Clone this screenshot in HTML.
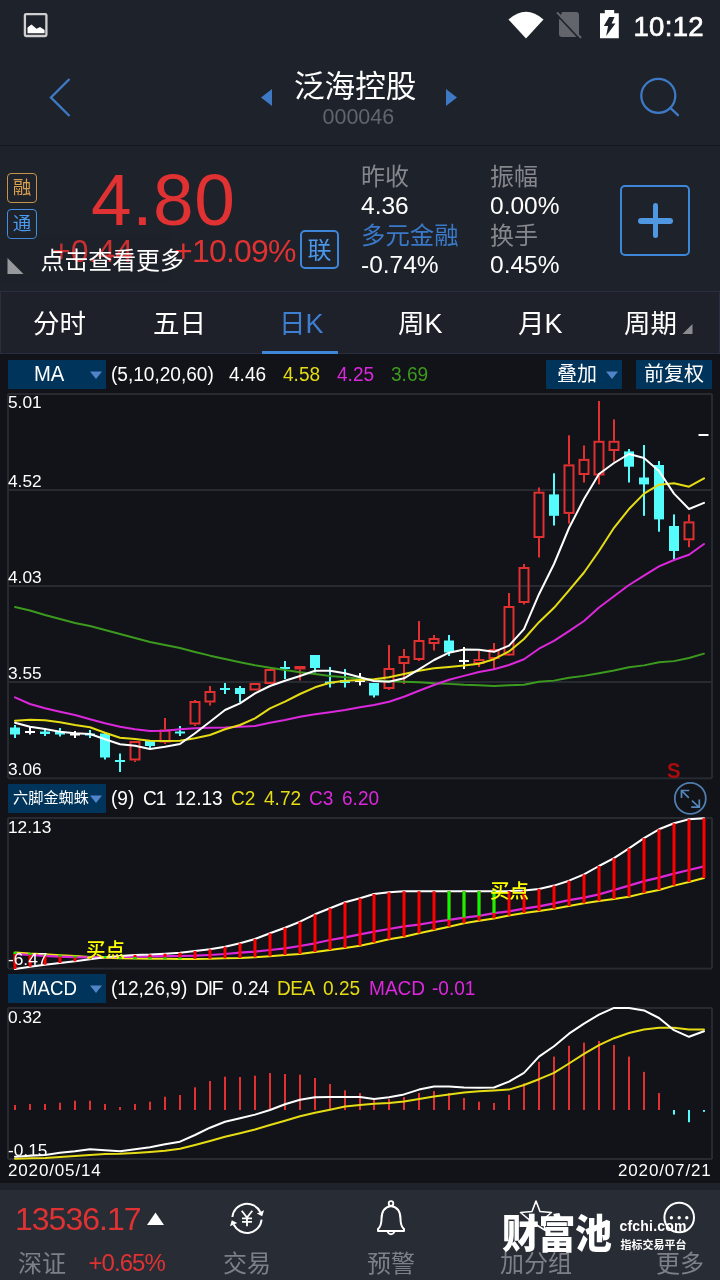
<!DOCTYPE html>
<html lang="zh"><head><meta charset="utf-8"><title>泛海控股 000046</title>
<style>
*{margin:0;padding:0;box-sizing:border-box}
html,body{width:720px;height:1280px;overflow:hidden;background:#111318}
body{position:relative;font-family:"Liberation Sans","Noto Sans CJK SC",sans-serif;color:#fff}
.a{position:absolute;white-space:nowrap;line-height:1}
.cj{font-family:"Liberation Sans","Noto Sans CJK SC",sans-serif}
#top{position:absolute;left:0;top:0;width:720px;height:145px;background:#1e222a}
#info{position:absolute;left:0;top:146.2px;width:720px;height:136.8px;background:#1e222a}
#gap{position:absolute;left:0;top:283px;width:720px;height:8px;background:#1e222a}
#tabs{position:absolute;left:0;top:291px;width:720px;height:63px;background:#1e212a;border:1px solid #2a2c40}
#bot{position:absolute;left:0;top:1183px;width:720px;height:97px;background:#282c35;border-top:7px solid #1e222a}
.btn{position:absolute;background:#00345a;height:28.7px}
.g{color:#85878c}
.y{color:#e6dc14}.m{color:#dc28dc}.gr{color:#3c9a1e}.r{color:#e03030}
.ax{font-size:17.3px}
.h{font-size:20.5px;transform:scaleX(0.93);transform-origin:0 50%}
#L{position:absolute;left:0;top:0;width:720px;height:1280px;will-change:transform}
</style></head><body><div id="L">
<div id="top"></div><div id="info"></div><div id="gap"></div><div id="tabs"></div><div id="bot"></div>

<!-- status bar -->
<svg class="a" style="left:0;top:0" width="720" height="50" viewBox="0 0 720 50">
 <rect x="24.9" y="14.1" width="21.5" height="21.9" rx="1.2" fill="none" stroke="#d0d0d0" stroke-width="2.3"/>
 <path d="M27.5 33.3 L27.5 27.5 L31.5 24.6 L36.5 28.7 L40 27 L44.6 30 L44.6 33.3 Z" fill="#fff"/>
 <path d="M508.5 19.5 Q526 4 543.5 19.5 L526 38.5 Z" fill="#fff"/>
 <path d="M562 12 h14 a3 3 0 0 1 3 3 v19 a3 3 0 0 1 -3 3 h-14 a3 3 0 0 1 -3 -3 v-14 z" fill="#62656b"/>
 <path d="M557 12.5 L581 38" stroke="#62656b" stroke-width="2.2"/>
 <path d="M556 14 L580 39.5" stroke="#1e222a" stroke-width="1.6"/>
 <path d="M604.8 10 h9.4 v3.2 h4.6 v25 h-18.8 v-25 h4.8 z" fill="#fff"/>
 <path d="M609.1 17 L614.5 17 L611.6 23.5 L615.5 23.5 L606.1 36 L608.1 26 L603.8 26 Z" fill="#1e222a"/>
</svg>
<div class="a" style="left:633.5px;top:12.5px;font-size:27.5px;letter-spacing:0.3px;-webkit-text-stroke:0.7px #fff">10:12</div>

<!-- header -->
<svg class="a" style="left:0;top:60px" width="720" height="80" viewBox="0 60 720 80">
 <path d="M69.5 79 L51 97.5 L69.5 116" fill="none" stroke="#3d79c4" stroke-width="2.4"/>
 <path d="M261 97.5 L272 89 L272 106 Z" fill="#3d79c4"/>
 <path d="M457 97.5 L446 89 L446 106 Z" fill="#3d79c4"/>
 <circle cx="658.3" cy="95.8" r="17" fill="none" stroke="#3d79c4" stroke-width="2.3"/>
 <path d="M670.3 107.8 L678 115.2" stroke="#3d79c4" stroke-width="2.3" stroke-linecap="round"/>
</svg>
<div class="a cj" style="left:294px;top:71.2px;font-size:30.6px">泛海控股</div>
<div class="a g" style="left:322.5px;top:107px;font-size:21.5px;color:#60656f">000046</div>
<div class="a" style="left:0;top:144.5px;width:720px;height:1.8px;background:#15171c"></div>

<!-- info -->
<div class="a cj" style="left:7px;top:173px;width:30px;height:30.3px;border:1.7px solid #c8924a;border-radius:4px;color:#d9a050;font-size:18.5px;text-align:center;line-height:27.6px">融</div>
<div class="a cj" style="left:7px;top:208.8px;width:30px;height:30.3px;border:1.7px solid #4590e6;border-radius:4px;color:#4a9af0;font-size:18.5px;text-align:center;line-height:27.6px">通</div>
<div class="a r" style="left:91px;top:163px;font-size:73px;letter-spacing:0.6px;color:#e03232">4.80</div>
<div class="a r" style="left:52px;top:235px;font-size:32px;color:#e03232">+0.44</div>
<div class="a r" style="left:174px;top:235px;font-size:32px;letter-spacing:-0.8px;color:#e03232">+10.09%</div>
<div class="a" style="left:0;top:234px;width:172px;height:48px;background:rgba(30,34,42,0.10)"></div>
<svg class="a" style="left:6px;top:256px" width="20" height="20"><path d="M1.5 2 L1.5 18 L17.5 18 Z" fill="#97999c"/></svg>
<div class="a cj" style="left:40.5px;top:249.2px;font-size:23.9px">点击查看更多</div>
<div class="a cj" style="left:300px;top:230.1px;width:39px;height:39px;border:2px solid #3d86d8;border-radius:5px;color:#4a96ea;font-size:24px;text-align:center;line-height:37.2px">联</div>

<div class="a cj g" style="left:361px;top:164.7px;font-size:24px">昨收</div>
<div class="a" style="left:361px;top:194px;font-size:24.5px">4.36</div>
<div class="a cj" style="left:361px;top:223.7px;font-size:24.4px;color:#3a78c8">多元金融</div>
<div class="a" style="left:361px;top:253px;font-size:24.5px">-0.74%</div>
<div class="a cj g" style="left:490px;top:164.7px;font-size:24px">振幅</div>
<div class="a" style="left:490px;top:194px;font-size:24.5px">0.00%</div>
<div class="a cj g" style="left:490px;top:223.7px;font-size:24px">换手</div>
<div class="a" style="left:490px;top:253px;font-size:24.5px">0.45%</div>
<div class="a" style="left:620px;top:185px;width:70px;height:71px;border:2px solid #3d86d8;border-radius:5px"></div>
<div class="a" style="left:638px;top:218px;width:34.5px;height:5.6px;background:#4f97e0;border-radius:3px"></div>
<div class="a" style="left:652.5px;top:203px;width:5.6px;height:35px;background:#4f97e0;border-radius:3px"></div>

<!-- tabs -->
<div class="a cj" style="left:33px;top:310.9px;font-size:26.5px">分时</div>
<div class="a cj" style="left:153px;top:310.9px;font-size:26.5px">五日</div>
<div class="a cj" style="left:279px;top:310.9px;font-size:26.5px;color:#3d7fd0">日<span style="font-size:27px">K</span></div>
<div class="a cj" style="left:398px;top:310.9px;font-size:26.5px">周<span style="font-size:27px">K</span></div>
<div class="a cj" style="left:518px;top:310.9px;font-size:26.5px">月<span style="font-size:27px">K</span></div>
<div class="a cj" style="left:624px;top:310.9px;font-size:26.5px">周期</div>
<svg class="a" style="left:680px;top:322px" width="14" height="14"><path d="M12.5 2 L12.5 12 L2.5 12 Z" fill="#8a8c90"/></svg>
<div class="a" style="left:262px;top:351px;width:76px;height:3px;background:#3d86d8"></div>

<!-- MA header -->
<div class="btn" style="left:8px;top:360px;width:98px"></div>
<div class="a" style="left:34px;top:363px;font-size:22px;transform:scaleX(0.92);transform-origin:0 50%">MA</div>
<svg class="a" style="left:89px;top:370px" width="14" height="10"><path d="M1 1.5 L13 1.5 L7 9 Z" fill="#4f84c8"/></svg>
<div class="a h" style="left:111px;top:364px">(5,10,20,60)</div>
<div class="a h" style="left:229px;top:364px">4.46</div>
<div class="a h y" style="left:283px;top:364px">4.58</div>
<div class="a h m" style="left:337px;top:364px">4.25</div>
<div class="a h gr" style="left:391px;top:364px">3.69</div>
<div class="btn" style="left:546px;top:360px;width:76px"></div>
<div class="a cj" style="left:557px;top:364.4px;font-size:20px">叠加</div>
<svg class="a" style="left:605px;top:370px" width="14" height="10"><path d="M1 1.5 L13 1.5 L7 9 Z" fill="#4f84c8"/></svg>
<div class="btn" style="left:636px;top:360px;width:76px"></div>
<div class="a cj" style="left:644px;top:364.4px;font-size:20px">前复权</div>

<!-- charts -->
<svg class="a" style="left:0;top:0" width="720" height="1280" viewBox="0 0 720 1280">
<rect x="8" y="393.0" width="704" height="2" fill="#272a31"/>
<rect x="8" y="489.0" width="704" height="2" fill="#272a31"/>
<rect x="8" y="585.0" width="704" height="2" fill="#272a31"/>
<rect x="8" y="681.0" width="704" height="2" fill="#272a31"/>
<rect x="8" y="777.3" width="704" height="2" fill="#272a31"/>
<rect x="7.0" y="394" width="2" height="384" fill="#272a31"/>
<rect x="711.0" y="394" width="2" height="384" fill="#272a31"/>
<rect x="8" y="817.0" width="704" height="2" fill="#272a31"/>
<rect x="8" y="967.6" width="704" height="2" fill="#272a31"/>
<rect x="7.0" y="818" width="2" height="150" fill="#272a31"/>
<rect x="711.0" y="818" width="2" height="150" fill="#272a31"/>
<rect x="8" y="1007.0" width="704" height="2" fill="#272a31"/>
<rect x="8" y="1158.0" width="704" height="2" fill="#272a31"/>
<rect x="7.0" y="1008" width="2" height="151" fill="#272a31"/>
<rect x="711.0" y="1008" width="2" height="151" fill="#272a31"/>
<rect x="14" y="725.0" width="2" height="13.0" fill="#54fcfc"/>
<rect x="10.0" y="727.5" width="10" height="7.0" fill="#54fcfc"/>
<rect x="29" y="726.0" width="2" height="8.5" fill="#fff"/>
<rect x="25.0" y="731.0" width="10" height="2" fill="#fff"/>
<rect x="44" y="728.0" width="2" height="8.0" fill="#54fcfc"/>
<rect x="40.0" y="731.5" width="10" height="2.5" fill="#54fcfc"/>
<rect x="59" y="728.0" width="2" height="8.5" fill="#54fcfc"/>
<rect x="55.0" y="732.0" width="10" height="2.5" fill="#54fcfc"/>
<rect x="74" y="731.0" width="2" height="7.0" fill="#fff"/>
<rect x="70.0" y="733.5" width="10" height="2" fill="#fff"/>
<rect x="89" y="730.0" width="2" height="8.0" fill="#54fcfc"/>
<rect x="85.0" y="733.5" width="10" height="2.0" fill="#54fcfc"/>
<rect x="104" y="732.0" width="2" height="27.5" fill="#54fcfc"/>
<rect x="100.0" y="733.5" width="10" height="24.0" fill="#54fcfc"/>
<rect x="119" y="753.5" width="2" height="18.5" fill="#54fcfc"/>
<rect x="115.0" y="760.0" width="10" height="2.0" fill="#54fcfc"/>
<rect x="134" y="741.0" width="2" height="0.0" fill="#e03030"/>
<rect x="134" y="760.5" width="2" height="1.5" fill="#e03030"/>
<rect x="130.5" y="742.0" width="9" height="17.5" fill="none" stroke="#e03030" stroke-width="2"/>
<rect x="149" y="741.0" width="2" height="8.0" fill="#54fcfc"/>
<rect x="145.0" y="741.0" width="10" height="5.0" fill="#54fcfc"/>
<rect x="164" y="718.0" width="2" height="11.5" fill="#e03030"/>
<rect x="164" y="742.5" width="2" height="1.5" fill="#e03030"/>
<rect x="160.5" y="730.5" width="9" height="11.0" fill="none" stroke="#e03030" stroke-width="2"/>
<rect x="179" y="726.0" width="2" height="10.0" fill="#54fcfc"/>
<rect x="175.0" y="731.5" width="10" height="2.0" fill="#54fcfc"/>
<rect x="194" y="700.0" width="2" height="1.0" fill="#e03030"/>
<rect x="194" y="724.5" width="2" height="1.5" fill="#e03030"/>
<rect x="190.5" y="702.0" width="9" height="21.5" fill="none" stroke="#e03030" stroke-width="2"/>
<rect x="209" y="686.0" width="2" height="5.0" fill="#e03030"/>
<rect x="209" y="702.5" width="2" height="3.0" fill="#e03030"/>
<rect x="205.5" y="692.0" width="9" height="9.5" fill="none" stroke="#e03030" stroke-width="2"/>
<rect x="224" y="683.0" width="2" height="11.0" fill="#54fcfc"/>
<rect x="220.0" y="688.0" width="10" height="2.0" fill="#54fcfc"/>
<rect x="239" y="686.0" width="2" height="16.5" fill="#54fcfc"/>
<rect x="235.0" y="688.0" width="10" height="6.0" fill="#54fcfc"/>
<rect x="254" y="683.0" width="2" height="0.0" fill="#e03030"/>
<rect x="254" y="690.5" width="2" height="0.0" fill="#e03030"/>
<rect x="250.5" y="684.0" width="9" height="5.5" fill="none" stroke="#e03030" stroke-width="2"/>
<rect x="269" y="669.0" width="2" height="0.0" fill="#e03030"/>
<rect x="269" y="684.0" width="2" height="0.0" fill="#e03030"/>
<rect x="265.5" y="670.0" width="9" height="13.0" fill="none" stroke="#e03030" stroke-width="2"/>
<rect x="284" y="661.0" width="2" height="18.0" fill="#54fcfc"/>
<rect x="280.0" y="667.0" width="10" height="2.0" fill="#54fcfc"/>
<rect x="299" y="666.0" width="2" height="0.0" fill="#e03030"/>
<rect x="299" y="669.5" width="2" height="11.0" fill="#e03030"/>
<rect x="295.5" y="667.0" width="9" height="1.5" fill="none" stroke="#e03030" stroke-width="2"/>
<rect x="314" y="655.0" width="2" height="17.5" fill="#54fcfc"/>
<rect x="310.0" y="655.0" width="10" height="13.0" fill="#54fcfc"/>
<rect x="329" y="667.0" width="2" height="20.5" fill="#54fcfc"/>
<rect x="325.0" y="681.5" width="10" height="2.0" fill="#54fcfc"/>
<rect x="344" y="669.0" width="2" height="18.5" fill="#54fcfc"/>
<rect x="340.0" y="680.0" width="10" height="3.0" fill="#54fcfc"/>
<rect x="359" y="673.0" width="2" height="12.5" fill="#fff"/>
<rect x="355.0" y="680.0" width="10" height="2" fill="#fff"/>
<rect x="373" y="683.0" width="2" height="14.5" fill="#54fcfc"/>
<rect x="369.0" y="683.0" width="10" height="12.5" fill="#54fcfc"/>
<rect x="388" y="645.0" width="2" height="23.0" fill="#e03030"/>
<rect x="388" y="689.0" width="2" height="1.0" fill="#e03030"/>
<rect x="384.5" y="669.0" width="9" height="19.0" fill="none" stroke="#e03030" stroke-width="2"/>
<rect x="403" y="649.0" width="2" height="7.0" fill="#e03030"/>
<rect x="403" y="664.0" width="2" height="20.0" fill="#e03030"/>
<rect x="399.5" y="657.0" width="9" height="6.0" fill="none" stroke="#e03030" stroke-width="2"/>
<rect x="418" y="621.0" width="2" height="19.0" fill="#e03030"/>
<rect x="418" y="660.0" width="2" height="1.0" fill="#e03030"/>
<rect x="414.5" y="641.0" width="9" height="18.0" fill="none" stroke="#e03030" stroke-width="2"/>
<rect x="433" y="635.0" width="2" height="3.0" fill="#e03030"/>
<rect x="433" y="644.0" width="2" height="6.5" fill="#e03030"/>
<rect x="429.5" y="639.0" width="9" height="4.0" fill="none" stroke="#e03030" stroke-width="2"/>
<rect x="448" y="635.0" width="2" height="21.0" fill="#54fcfc"/>
<rect x="444.0" y="640.5" width="10" height="12.0" fill="#54fcfc"/>
<rect x="463" y="647.0" width="2" height="22.0" fill="#fff"/>
<rect x="459.0" y="660.0" width="10" height="2" fill="#fff"/>
<rect x="478" y="651.0" width="2" height="8.0" fill="#e03030"/>
<rect x="478" y="664.0" width="2" height="3.0" fill="#e03030"/>
<rect x="474.5" y="660.0" width="9" height="3.0" fill="none" stroke="#e03030" stroke-width="2"/>
<rect x="493" y="643.0" width="2" height="6.0" fill="#e03030"/>
<rect x="493" y="659.0" width="2" height="10.0" fill="#e03030"/>
<rect x="489.5" y="650.0" width="9" height="8.0" fill="none" stroke="#e03030" stroke-width="2"/>
<rect x="508" y="593.0" width="2" height="13.0" fill="#e03030"/>
<rect x="508" y="655.5" width="2" height="0.5" fill="#e03030"/>
<rect x="504.5" y="607.0" width="9" height="47.5" fill="none" stroke="#e03030" stroke-width="2"/>
<rect x="523" y="564.0" width="2" height="3.0" fill="#e03030"/>
<rect x="523" y="603.0" width="2" height="1.5" fill="#e03030"/>
<rect x="519.5" y="568.0" width="9" height="34.0" fill="none" stroke="#e03030" stroke-width="2"/>
<rect x="538" y="487.5" width="2" height="4.2" fill="#e03030"/>
<rect x="538" y="538.0" width="2" height="19.5" fill="#e03030"/>
<rect x="534.5" y="492.7" width="9" height="44.3" fill="none" stroke="#e03030" stroke-width="2"/>
<rect x="553" y="473.3" width="2" height="52.2" fill="#54fcfc"/>
<rect x="549.0" y="494.4" width="10" height="21.4" fill="#54fcfc"/>
<rect x="568" y="435.3" width="2" height="29.1" fill="#e03030"/>
<rect x="568" y="513.9" width="2" height="9.7" fill="#e03030"/>
<rect x="564.5" y="465.4" width="9" height="47.5" fill="none" stroke="#e03030" stroke-width="2"/>
<rect x="583" y="445.5" width="2" height="13.4" fill="#e03030"/>
<rect x="583" y="475.0" width="2" height="7.5" fill="#e03030"/>
<rect x="579.5" y="459.9" width="9" height="14.1" fill="none" stroke="#e03030" stroke-width="2"/>
<rect x="598" y="401.0" width="2" height="39.8" fill="#e03030"/>
<rect x="598" y="475.5" width="2" height="8.9" fill="#e03030"/>
<rect x="594.5" y="441.8" width="9" height="32.7" fill="none" stroke="#e03030" stroke-width="2"/>
<rect x="613" y="419.4" width="2" height="21.4" fill="#e03030"/>
<rect x="613" y="451.0" width="2" height="10.7" fill="#e03030"/>
<rect x="609.5" y="441.8" width="9" height="8.2" fill="none" stroke="#e03030" stroke-width="2"/>
<rect x="628" y="449.0" width="2" height="33.5" fill="#54fcfc"/>
<rect x="624.0" y="451.4" width="10" height="15.3" fill="#54fcfc"/>
<rect x="643" y="445.0" width="2" height="70.8" fill="#54fcfc"/>
<rect x="639.0" y="477.5" width="10" height="6.9" fill="#54fcfc"/>
<rect x="658" y="461.0" width="2" height="70.7" fill="#54fcfc"/>
<rect x="654.0" y="465.0" width="10" height="54.4" fill="#54fcfc"/>
<rect x="673" y="514.4" width="2" height="45.0" fill="#54fcfc"/>
<rect x="669.0" y="526.0" width="10" height="25.0" fill="#54fcfc"/>
<rect x="688" y="514.4" width="2" height="7.0" fill="#e03030"/>
<rect x="688" y="540.3" width="2" height="6.9" fill="#e03030"/>
<rect x="684.5" y="522.4" width="9" height="16.9" fill="none" stroke="#e03030" stroke-width="2"/>
<rect x="698.5" y="434.0" width="10" height="2" fill="#fff"/>
<polyline fill="none" stroke="#3c9a1e" stroke-width="1.9" stroke-linejoin="round" stroke-linecap="round" points="15.0,607.0 30.0,610.5 45.0,615.0 60.0,619.0 75.0,623.0 90.0,626.0 105.0,630.0 120.0,634.0 135.0,638.0 150.0,642.0 165.0,645.0 180.0,648.0 195.0,652.0 210.0,655.7 225.0,659.0 240.0,662.3 255.0,665.3 270.0,667.7 285.0,670.0 300.0,672.3 315.0,674.0 330.0,676.0 345.0,677.3 360.0,678.7 374.0,680.0 389.0,681.0 404.0,681.7 419.0,682.3 434.0,683.3 449.0,683.9 464.0,684.8 479.0,685.2 494.0,686.0 509.0,685.2 524.0,684.8 539.0,681.7 554.0,680.6 569.0,677.8 584.0,675.9 599.0,673.2 614.0,670.5 629.0,667.3 644.0,665.4 659.0,662.3 674.0,661.1 689.0,658.0 704.0,653.7"/>
<polyline fill="none" stroke="#dc28dc" stroke-width="2.0" stroke-linejoin="round" stroke-linecap="round" points="15.0,697.3 30.0,704.0 45.0,708.3 60.0,711.7 75.0,715.0 90.0,719.3 105.0,723.3 120.0,726.7 135.0,729.3 150.0,731.0 165.0,730.7 180.0,729.3 195.0,728.3 210.0,727.7 225.0,727.5 240.0,726.7 255.0,726.0 270.0,722.7 285.0,720.0 300.0,716.7 315.0,714.3 330.0,712.3 345.0,710.0 360.0,707.3 374.0,705.0 389.0,701.7 404.0,696.7 419.0,690.7 434.0,685.0 449.0,679.8 464.0,675.9 479.0,672.0 494.0,669.3 509.0,665.0 524.0,659.2 539.0,648.7 554.0,640.9 569.0,631.2 584.0,621.0 599.0,607.5 614.0,596.3 629.0,585.0 644.0,575.6 659.0,566.4 674.0,560.0 689.0,554.7 704.0,544.0"/>
<polyline fill="none" stroke="#e6dc14" stroke-width="2.0" stroke-linejoin="round" stroke-linecap="round" points="15.0,720.7 30.0,719.7 45.0,720.3 60.0,722.3 75.0,725.0 90.0,727.3 105.0,732.7 120.0,737.7 135.0,739.0 150.0,740.7 165.0,741.0 180.0,740.7 195.0,738.3 210.0,735.0 225.0,729.3 240.0,725.0 255.0,718.3 270.0,708.3 285.0,701.7 300.0,694.0 315.0,687.3 330.0,682.7 345.0,680.7 360.0,680.0 374.0,679.3 389.0,677.3 404.0,674.0 419.0,670.7 434.0,668.3 449.0,667.0 464.0,665.4 479.0,663.8 494.0,659.2 509.0,651.4 524.0,639.0 539.0,622.2 554.0,607.8 569.0,590.3 584.0,572.5 599.0,551.0 614.0,527.8 629.0,509.0 644.0,493.6 659.0,484.7 674.0,483.3 689.0,486.7 704.0,478.3"/>
<polyline fill="none" stroke="#ffffff" stroke-width="2.0" stroke-linejoin="round" stroke-linecap="round" points="15.0,722.7 30.0,726.7 45.0,729.0 60.0,731.7 75.0,733.3 90.0,734.0 105.0,739.3 120.0,744.3 135.0,745.7 150.0,749.0 165.0,746.7 180.0,744.0 195.0,733.3 210.0,721.7 225.0,710.0 240.0,703.3 255.0,693.3 270.0,686.0 285.0,680.7 300.0,676.0 315.0,670.7 330.0,670.7 345.0,673.3 360.0,677.3 374.0,681.0 389.0,681.7 404.0,678.3 419.0,669.3 434.0,660.0 449.0,652.7 464.0,649.5 479.0,649.8 494.0,651.8 509.0,645.6 524.0,629.2 539.0,594.2 554.0,564.0 569.0,528.0 584.0,499.0 599.0,474.0 614.0,463.0 629.0,454.0 644.0,458.0 659.0,471.0 674.0,493.6 689.0,509.0 704.0,502.8"/>
<polyline fill="none" stroke="#f0e614" stroke-width="2.0" stroke-linejoin="round" stroke-linecap="round" points="15.0,952.4 30.0,953.5 45.0,954.2 60.0,955.2 75.0,956.1 90.0,957.0 105.0,957.7 120.0,958.2 135.0,958.5 150.0,958.7 165.0,958.8 180.0,958.9 195.0,958.9 210.0,958.8 225.0,958.3 240.0,958.0 255.0,957.3 270.0,956.3 285.0,955.0 300.0,954.0 315.0,952.0 330.0,950.0 345.0,948.0 360.0,945.7 374.0,942.7 389.0,939.3 404.0,936.7 419.0,933.3 434.0,930.0 449.0,926.7 464.0,923.3 479.0,920.7 494.0,918.4 509.0,915.6 524.0,912.9 539.0,911.1 554.0,908.7 569.0,906.0 584.0,903.3 599.0,901.1 614.0,898.9 629.0,896.7 644.0,893.1 659.0,890.0 674.0,885.6 689.0,882.0 704.0,878.0"/>
<polyline fill="none" stroke="#dc28dc" stroke-width="2.2" stroke-linejoin="round" stroke-linecap="round" points="15.0,953.9 30.0,955.0 45.0,955.9 60.0,956.7 75.0,957.2 90.0,957.3 105.0,957.2 120.0,957.0 135.0,956.6 150.0,956.3 165.0,956.2 180.0,956.0 195.0,955.7 210.0,955.0 225.0,954.0 240.0,952.7 255.0,951.7 270.0,950.0 285.0,948.3 300.0,946.0 315.0,943.3 330.0,940.0 345.0,937.3 360.0,934.3 374.0,931.7 389.0,929.0 404.0,926.4 419.0,924.7 434.0,922.0 449.0,919.8 464.0,917.6 479.0,915.8 494.0,913.1 509.0,911.3 524.0,908.7 539.0,906.4 554.0,903.3 569.0,900.2 584.0,897.6 599.0,894.4 614.0,890.0 629.0,885.6 644.0,881.1 659.0,877.6 674.0,873.6 689.0,870.0 704.0,866.4"/>
<polyline fill="none" stroke="#ffffff" stroke-width="2.0" stroke-linejoin="round" stroke-linecap="round" points="15.0,969.0 30.0,966.7 45.0,964.7 60.0,963.0 75.0,961.3 90.0,959.2 105.0,957.3 120.0,955.9 135.0,954.9 150.0,954.5 165.0,953.7 180.0,952.7 195.0,951.0 210.0,949.3 225.0,946.7 240.0,943.3 255.0,939.0 270.0,933.3 285.0,927.7 300.0,921.7 315.0,914.3 330.0,908.3 345.0,902.3 360.0,898.3 374.0,894.0 389.0,892.3 404.0,891.2 419.0,891.2 434.0,891.2 449.0,891.2 464.0,891.2 479.0,891.2 494.0,891.2 509.0,891.1 524.0,890.6 539.0,888.9 554.0,885.6 569.0,880.7 584.0,874.4 599.0,866.0 614.0,858.2 629.0,848.4 644.0,838.2 659.0,829.3 674.0,823.3 689.0,819.3 704.0,818.2"/>
<rect x="13.5" y="952.4" width="3" height="16.6" fill="#ff0000"/>
<rect x="13.5" y="951.9" width="3" height="2" fill="#00f000"/>
<rect x="28.5" y="953.5" width="3" height="13.2" fill="#ff0000"/>
<rect x="28.5" y="953.0" width="3" height="2" fill="#00f000"/>
<rect x="43.5" y="954.2" width="3" height="10.5" fill="#ff0000"/>
<rect x="43.5" y="953.7" width="3" height="2" fill="#00f000"/>
<rect x="58.5" y="955.2" width="3" height="7.8" fill="#ff0000"/>
<rect x="58.5" y="954.7" width="3" height="2" fill="#00f000"/>
<rect x="73.5" y="956.1" width="3" height="5.2" fill="#ff0000"/>
<rect x="73.5" y="955.6" width="3" height="2" fill="#00f000"/>
<rect x="88.5" y="957.0" width="3" height="2.2" fill="#ff0000"/>
<rect x="88.5" y="956.5" width="3" height="2" fill="#00f000"/>
<rect x="103.5" y="957.3" width="3" height="1.0" fill="#ff0000"/>
<rect x="103.5" y="956.2" width="3" height="2" fill="#00f000"/>
<rect x="118.5" y="955.9" width="3" height="2.3" fill="#ff0000"/>
<rect x="118.5" y="956.7" width="3" height="2" fill="#00f000"/>
<rect x="133.5" y="954.9" width="3" height="3.6" fill="#ff0000"/>
<rect x="133.5" y="957.0" width="3" height="2" fill="#00f000"/>
<rect x="148.5" y="954.5" width="3" height="4.2" fill="#ff0000"/>
<rect x="148.5" y="957.2" width="3" height="2" fill="#00f000"/>
<rect x="163.5" y="953.7" width="3" height="5.1" fill="#ff0000"/>
<rect x="163.5" y="957.3" width="3" height="2" fill="#00f000"/>
<rect x="178.5" y="952.7" width="3" height="6.2" fill="#ff0000"/>
<rect x="178.5" y="957.4" width="3" height="2" fill="#00f000"/>
<rect x="193.5" y="951.0" width="3" height="7.9" fill="#ff0000"/>
<rect x="208.5" y="949.3" width="3" height="9.5" fill="#ff0000"/>
<rect x="223.5" y="946.7" width="3" height="11.6" fill="#ff0000"/>
<rect x="238.5" y="943.3" width="3" height="14.7" fill="#ff0000"/>
<rect x="253.5" y="939.0" width="3" height="18.3" fill="#ff0000"/>
<rect x="268.5" y="933.3" width="3" height="23.0" fill="#ff0000"/>
<rect x="283.5" y="927.7" width="3" height="27.3" fill="#ff0000"/>
<rect x="298.5" y="921.7" width="3" height="32.3" fill="#ff0000"/>
<rect x="313.5" y="914.3" width="3" height="37.7" fill="#ff0000"/>
<rect x="328.5" y="908.3" width="3" height="41.7" fill="#ff0000"/>
<rect x="343.5" y="902.3" width="3" height="45.7" fill="#ff0000"/>
<rect x="358.5" y="898.3" width="3" height="47.4" fill="#ff0000"/>
<rect x="372.5" y="894.0" width="3" height="48.7" fill="#ff0000"/>
<rect x="387.5" y="892.3" width="3" height="47.0" fill="#ff0000"/>
<rect x="402.5" y="891.2" width="3" height="45.5" fill="#ff0000"/>
<rect x="417.5" y="891.2" width="3" height="42.1" fill="#ff0000"/>
<rect x="432.5" y="891.2" width="3" height="38.8" fill="#ff0000"/>
<rect x="447.5" y="891.2" width="3" height="35.5" fill="#ff0000"/>
<rect x="447.5" y="891.2" width="3" height="28.6" fill="#00ff00"/>
<rect x="462.5" y="891.2" width="3" height="32.1" fill="#ff0000"/>
<rect x="462.5" y="891.2" width="3" height="26.4" fill="#00ff00"/>
<rect x="477.5" y="891.2" width="3" height="29.5" fill="#ff0000"/>
<rect x="477.5" y="891.2" width="3" height="24.6" fill="#00ff00"/>
<rect x="492.5" y="891.2" width="3" height="27.2" fill="#ff0000"/>
<rect x="492.5" y="891.2" width="3" height="21.9" fill="#00ff00"/>
<rect x="507.5" y="891.1" width="3" height="24.5" fill="#ff0000"/>
<rect x="522.5" y="890.6" width="3" height="22.3" fill="#ff0000"/>
<rect x="537.5" y="888.9" width="3" height="22.2" fill="#ff0000"/>
<rect x="552.5" y="885.6" width="3" height="23.1" fill="#ff0000"/>
<rect x="567.5" y="880.7" width="3" height="25.3" fill="#ff0000"/>
<rect x="582.5" y="874.4" width="3" height="28.9" fill="#ff0000"/>
<rect x="597.5" y="866.0" width="3" height="35.1" fill="#ff0000"/>
<rect x="612.5" y="858.2" width="3" height="40.7" fill="#ff0000"/>
<rect x="627.5" y="848.4" width="3" height="48.3" fill="#ff0000"/>
<rect x="642.5" y="838.2" width="3" height="54.9" fill="#ff0000"/>
<rect x="657.5" y="829.3" width="3" height="60.7" fill="#ff0000"/>
<rect x="672.5" y="823.3" width="3" height="62.3" fill="#ff0000"/>
<rect x="687.5" y="819.3" width="3" height="62.7" fill="#ff0000"/>
<rect x="702.5" y="818.2" width="3" height="59.8" fill="#ff0000"/>
<rect x="14" y="1105.0" width="2" height="5.0" fill="#e03030"/>
<rect x="29" y="1104.0" width="2" height="6.0" fill="#e03030"/>
<rect x="44" y="1104.0" width="2" height="6.0" fill="#e03030"/>
<rect x="59" y="1102.7" width="2" height="7.3" fill="#e03030"/>
<rect x="74" y="1100.7" width="2" height="9.3" fill="#e03030"/>
<rect x="89" y="1100.7" width="2" height="9.3" fill="#e03030"/>
<rect x="104" y="1104.0" width="2" height="6.0" fill="#e03030"/>
<rect x="119" y="1107.0" width="2" height="3.0" fill="#e03030"/>
<rect x="134" y="1104.0" width="2" height="6.0" fill="#e03030"/>
<rect x="149" y="1101.7" width="2" height="8.3" fill="#e03030"/>
<rect x="164" y="1096.7" width="2" height="13.3" fill="#e03030"/>
<rect x="179" y="1095.0" width="2" height="15.0" fill="#e03030"/>
<rect x="194" y="1087.3" width="2" height="22.7" fill="#e03030"/>
<rect x="209" y="1081.0" width="2" height="29.0" fill="#e03030"/>
<rect x="224" y="1076.7" width="2" height="33.3" fill="#e03030"/>
<rect x="239" y="1077.0" width="2" height="33.0" fill="#e03030"/>
<rect x="254" y="1075.7" width="2" height="34.3" fill="#e03030"/>
<rect x="269" y="1073.0" width="2" height="37.0" fill="#e03030"/>
<rect x="284" y="1074.0" width="2" height="36.0" fill="#e03030"/>
<rect x="299" y="1074.7" width="2" height="35.3" fill="#e03030"/>
<rect x="314" y="1078.0" width="2" height="32.0" fill="#e03030"/>
<rect x="329" y="1084.0" width="2" height="26.0" fill="#e03030"/>
<rect x="344" y="1090.3" width="2" height="19.7" fill="#e03030"/>
<rect x="359" y="1093.0" width="2" height="17.0" fill="#e03030"/>
<rect x="373" y="1100.0" width="2" height="10.0" fill="#e03030"/>
<rect x="388" y="1099.0" width="2" height="11.0" fill="#e03030"/>
<rect x="403" y="1097.2" width="2" height="12.8" fill="#e03030"/>
<rect x="418" y="1093.0" width="2" height="17.0" fill="#e03030"/>
<rect x="433" y="1091.0" width="2" height="19.0" fill="#e03030"/>
<rect x="448" y="1093.0" width="2" height="17.0" fill="#e03030"/>
<rect x="463" y="1098.0" width="2" height="12.0" fill="#e03030"/>
<rect x="478" y="1101.7" width="2" height="8.3" fill="#e03030"/>
<rect x="493" y="1103.0" width="2" height="7.0" fill="#e03030"/>
<rect x="508" y="1094.8" width="2" height="15.2" fill="#e03030"/>
<rect x="523" y="1083.3" width="2" height="26.7" fill="#e03030"/>
<rect x="538" y="1061.8" width="2" height="48.2" fill="#e03030"/>
<rect x="553" y="1056.6" width="2" height="53.4" fill="#e03030"/>
<rect x="568" y="1045.8" width="2" height="64.2" fill="#e03030"/>
<rect x="583" y="1042.7" width="2" height="67.3" fill="#e03030"/>
<rect x="598" y="1041.0" width="2" height="69.0" fill="#e03030"/>
<rect x="613" y="1045.0" width="2" height="65.0" fill="#e03030"/>
<rect x="628" y="1056.6" width="2" height="53.4" fill="#e03030"/>
<rect x="643" y="1071.9" width="2" height="38.1" fill="#e03030"/>
<rect x="658" y="1093.0" width="2" height="17.0" fill="#e03030"/>
<rect x="673" y="1110.0" width="2" height="4.6" fill="#54fcfc"/>
<rect x="688" y="1110.0" width="2" height="12.2" fill="#54fcfc"/>
<rect x="703" y="1110.0" width="2" height="1.8" fill="#54fcfc"/>
<polyline fill="none" stroke="#e6dc14" stroke-width="2.0" stroke-linejoin="round" stroke-linecap="round" points="15.0,1158.7 30.0,1158.3 45.0,1158.0 60.0,1157.0 75.0,1156.0 90.0,1155.0 105.0,1154.0 120.0,1153.7 135.0,1153.0 150.0,1152.0 165.0,1150.7 180.0,1148.7 195.0,1145.0 210.0,1141.0 225.0,1136.7 240.0,1133.2 255.0,1129.5 270.0,1125.0 285.0,1120.8 300.0,1116.3 315.0,1112.8 330.0,1109.7 345.0,1106.6 360.0,1104.9 374.0,1103.8 389.0,1103.0 404.0,1101.4 419.0,1099.0 434.0,1096.5 449.0,1094.4 464.0,1092.4 479.0,1091.3 494.0,1090.6 509.0,1089.6 524.0,1085.0 539.0,1079.2 554.0,1072.9 569.0,1063.5 584.0,1053.8 599.0,1045.1 614.0,1038.2 629.0,1033.0 644.0,1029.5 659.0,1027.8 674.0,1027.8 689.0,1029.5 704.0,1029.5"/>
<polyline fill="none" stroke="#ffffff" stroke-width="2.0" stroke-linejoin="round" stroke-linecap="round" points="15.0,1156.7 30.0,1155.7 45.0,1155.0 60.0,1152.7 75.0,1151.3 90.0,1149.3 105.0,1150.3 120.0,1151.3 135.0,1149.3 150.0,1147.3 165.0,1144.3 180.0,1141.7 195.0,1135.0 210.0,1127.7 225.0,1121.7 240.0,1118.2 255.0,1114.6 270.0,1110.0 285.0,1104.2 300.0,1099.7 315.0,1097.2 330.0,1096.9 345.0,1096.9 360.0,1096.9 374.0,1099.0 389.0,1097.2 404.0,1094.4 419.0,1089.6 434.0,1086.5 449.0,1086.5 464.0,1087.5 479.0,1087.8 494.0,1087.5 509.0,1081.6 524.0,1072.9 539.0,1056.6 554.0,1046.2 569.0,1033.7 584.0,1023.6 599.0,1014.6 614.0,1007.9 629.0,1007.9 644.0,1010.4 659.0,1018.0 674.0,1030.2 689.0,1036.8 704.0,1031.2"/>
<text x="667" y="778" font-family="Liberation Sans, sans-serif" font-weight="bold" font-size="21.5" fill="#a80c0c" textLength="13.6" lengthAdjust="spacingAndGlyphs">S</text>
<circle cx="690.3" cy="798.4" r="15.5" fill="none" stroke="#4f7dad" stroke-width="1.8"/>
<path d="M682 791 L688.8 797.8 M692 800.6 L698.8 807 M681.5 798 L681.5 790.5 L689.3 790.5 M699.3 799.5 L699.3 807.2 L691.2 807.2" fill="none" stroke="#5588ba" stroke-width="1.7"/>
</svg>

<!-- axis labels -->
<div class="a ax" style="left:8px;top:393.7px">5.01</div>
<div class="a ax" style="left:8px;top:472.8px">4.52</div>
<div class="a ax" style="left:8px;top:569.0px">4.03</div>
<div class="a ax" style="left:8px;top:665.0px">3.55</div>
<div class="a ax" style="left:8px;top:761.3px">3.06</div>
<div class="a ax" style="left:8px;top:818.5px">12.13</div>
<div class="a ax" style="left:8px;top:951.3px">-6.47</div>
<div class="a ax" style="left:8px;top:1008.5px">0.32</div>
<div class="a ax" style="left:8px;top:1141.5px">-0.15</div>
<div class="a" style="left:8px;top:1162px;font-size:17px;letter-spacing:0.85px">2020/05/14</div>
<div class="a" style="left:618px;top:1162px;font-size:17px;letter-spacing:0.85px">2020/07/21</div>

<!-- indicator 1 header -->
<div class="btn" style="left:8px;top:784px;width:98px"></div>
<div class="a cj" style="left:13px;top:790.1px;font-size:15.2px">六脚金蜘蛛</div>
<svg class="a" style="left:89px;top:794px" width="14" height="10"><path d="M1 1.5 L13 1.5 L7 9 Z" fill="#4f84c8"/></svg>
<div class="a h" style="left:111px;top:788px">(9)</div>
<div class="a h" style="left:143px;top:788px;letter-spacing:-1.2px">C1</div>
<div class="a h" style="left:175px;top:788px">12.13</div>
<div class="a h y" style="left:231px;top:788px">C2</div>
<div class="a h y" style="left:264px;top:788px">4.72</div>
<div class="a h m" style="left:309px;top:788px">C3</div>
<div class="a h m" style="left:342px;top:788px">6.20</div>
<div class="a cj" style="left:86px;top:941.4px;font-size:19.5px;font-weight:500;color:#ffff00">买点</div>
<div class="a cj" style="left:490px;top:882.4px;font-size:19.5px;font-weight:500;color:#ffff00">买点</div>

<!-- MACD header -->
<div class="btn" style="left:8px;top:974px;width:98px"></div>
<div class="a" style="left:22px;top:977px;font-size:21px;transform:scaleX(0.89);transform-origin:0 50%">MACD</div>
<svg class="a" style="left:89px;top:984px" width="14" height="10"><path d="M1 1.5 L13 1.5 L7 9 Z" fill="#4f84c8"/></svg>
<div class="a h" style="left:111px;top:978px">(12,26,9)</div>
<div class="a h" style="left:194.5px;top:978px;letter-spacing:-1.2px">DIF</div>
<div class="a h" style="left:232px;top:978px">0.24</div>
<div class="a h y" style="left:277px;top:978px;letter-spacing:-0.5px">DEA</div>
<div class="a h y" style="left:323px;top:978px">0.25</div>
<div class="a h m" style="left:369px;top:978px">MACD</div>
<div class="a h m" style="left:432px;top:978px">-0.01</div>

<!-- bottom bar -->
<div class="a" style="left:15px;top:1203px;font-size:32px;letter-spacing:-1.0px;color:#e03232">13536.17</div>
<svg class="a" style="left:145.5px;top:1210.5px" width="20" height="16"><path d="M1 14 L9.5 1.5 L18 14 Z" fill="#fff"/></svg>
<div class="a cj" style="left:18px;top:1251.7px;font-size:24px;color:#7d8187">深证</div>
<div class="a" style="left:88.5px;top:1251px;font-size:24px;letter-spacing:-0.95px;color:#e03232">+0.65%</div>
<div class="a cj" style="left:223px;top:1251.7px;font-size:24px;color:#7d8187">交易</div>
<div class="a cj" style="left:367px;top:1251.7px;font-size:24px;color:#7d8187">预警</div>
<div class="a cj" style="left:500px;top:1251.7px;font-size:24px;color:#7d8187">加分组</div>
<div class="a cj" style="left:656px;top:1251.7px;font-size:24px;color:#7d8187">更多</div>
<svg class="a" style="left:0;top:1186px" width="720" height="94" viewBox="0 1186 720 94">
 <!-- trade icon -->
 <path d="M232.4 1217 A14.7 14.7 0 0 1 260.3 1212.1" fill="none" stroke="#fff" stroke-width="2"/>
 <path d="M261.6 1219.6 A14.7 14.7 0 0 1 233.7 1224.5" fill="none" stroke="#fff" stroke-width="2"/>
 <path d="M262.2 1216.3 L264 1210.3 L256.8 1213.6 Z" fill="#fff"/>
 <path d="M231.8 1220.3 L230 1226.3 L237.2 1223 Z" fill="#fff"/>
 <path d="M241.7 1210.7 L247 1217.6 L252.3 1210.7 M247 1217.6 L247 1226.2 M242 1218.3 L252 1218.3 M242 1221.8 L252 1221.8" fill="none" stroke="#fff" stroke-width="1.8"/>
 <!-- bell -->
 <path d="M378 1231 L378 1229 Q381.500 1226 381.500 1219 Q381.500 1207.5 391 1206 Q400.500 1207.5 400.500 1219 Q400.500 1226 404 1229 L404 1231 Z" fill="none" stroke="#fff" stroke-width="2" stroke-linejoin="round"/>
 <circle cx="391" cy="1203.5" r="2.3" fill="none" stroke="#fff" stroke-width="1.8"/>
 <path d="M387.500 1232 Q391 1236.500 394.500 1232" fill="none" stroke="#fff" stroke-width="2"/>
 <!-- more -->
 <circle cx="679.2" cy="1217.500" r="14.8" fill="none" stroke="#fff" stroke-width="2"/>
 <circle cx="671.4" cy="1217.700" r="1.7" fill="#fff"/><circle cx="679.2" cy="1217.700" r="1.7" fill="#fff"/><circle cx="686.8" cy="1217.700" r="1.7" fill="#fff"/>
 <!-- watermark star -->
 <path d="M536 1201 L540 1211.500 L551.5 1212.500 L542.500 1220 L545.500 1230.500 L536 1224.500 L526.500 1230.500 L529.500 1220 L520.5 1212.500 L532 1211.500 Z" fill="none" stroke="#fff" stroke-width="1.6" stroke-linejoin="round"/>
</svg>
<div class="a cj" style="left:502px;top:1215.6px;font-size:37px;font-weight:900;letter-spacing:-0.5px;transform:scaleY(1.08);transform-origin:0 50%">财富池</div>
<div class="a" style="left:619.5px;top:1218.5px;font-size:14px;font-weight:bold;letter-spacing:0.2px">cfchi.com</div>
<div class="a cj" style="left:620.5px;top:1239.8px;font-size:11px;font-weight:bold">指标交易平台</div>
</div></body></html>
